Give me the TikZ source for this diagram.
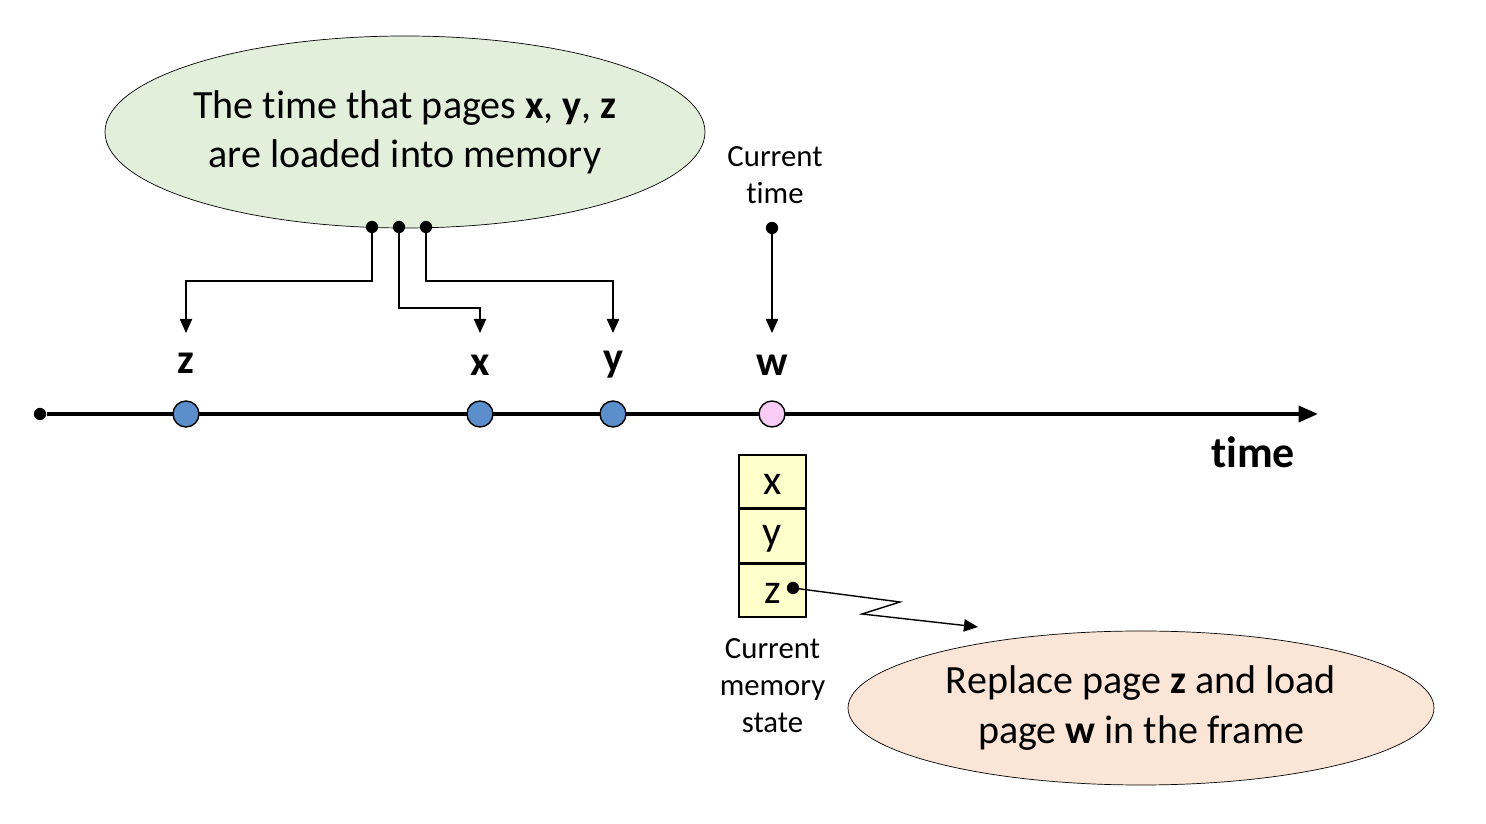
\documentclass[tikz,border=0pt]{standalone}
\usepackage{fontspec}
\setmainfont[Ligatures=NoCommon]{Carlito}
\usepackage{tikz}
\usetikzlibrary{arrows.meta,shapes.geometric,positioning}
\definecolor{bubGreen}{HTML}{E2EFDA}
\definecolor{bubPeach}{HTML}{FBE5D6}
\definecolor{dotBlue}{HTML}{5B8FCB}
\definecolor{dotPink}{HTML}{F9CCF5}
\definecolor{cellYellow}{HTML}{FFFFCC}

\begin{document}
\begin{tikzpicture}[
  every node/.style={font=\fontsize{22.8}{28}\selectfont},
  bubble/.style={draw, ellipse, thin, align=center, inner sep=0pt},
  event/.style={circle, draw, thick, minimum size=0.52cm, inner sep=0pt},
  page/.style={font=\fontsize{24}{28}\selectfont\bfseries},
  cell/.style={draw, thick, fill=cellYellow, minimum width=1.34cm, minimum height=1.06cm,
    inner sep=0pt, text height=14.5pt, font=\fontsize{24}{28}\selectfont},
  small/.style={font=\fontsize{17.5}{21}\selectfont, align=center},
  pin/.style={circle, fill, inner sep=0pt, minimum size=7pt},
  arr/.style={-{Triangle[length=8pt,width=7pt]}, thick},
]
\useasboundingbox (0,0) rectangle (29.72,16.48);

% Timeline axis
\node[pin] (t0) at (0.8, 8.2) {};
\coordinate (tend) at (26.36, 8.2);
\draw[line width=2.2pt, -{Triangle[length=11pt,width=9pt]}] (t0) -- (tend);
\node[font=\fontsize{25}{30}\selectfont\bfseries] (tlabel) at (25.06, 7.44) {time};

% Events on axis
\node[event, fill=dotBlue] (ez) at (3.72, 8.2) {};
\node[event, fill=dotBlue] (ex) at (9.6, 8.2) {};
\node[event, fill=dotBlue] (ey) at (12.26, 8.2) {};
\node[event, fill=dotPink] (ew) at (15.44, 8.2) {};

% Page labels
\node[page] (lz) at (3.72, 9.22) {z};
\node[page] (lx) at (9.6, 9.18) {x};
\node[page] (ly) at (12.26, 9.18) {y};
\node[page] (lw) at (15.44, 9.18) {w};

% Load-time bubble
\node[bubble, fill=bubGreen, minimum width=12cm, minimum height=3.84cm] (load) at (8.1, 13.84)
  {The time that pages \textbf{x}, \textbf{y}, \textbf{z}\\are loaded into memory};
\node[pin] (pz) at (7.44, 11.94) {};
\node[pin] (px) at (7.98, 11.94) {};
\node[pin] (py) at (8.52, 11.94) {};
\draw[arr] (pz.center) |- (3.72, 10.86) -- (lz.north |- 0,9.82);
\draw[arr] (px.center) |- (9.6, 10.32) -- (lx.north |- 0,9.82);
\draw[arr] (py.center) |- (12.26, 10.86) -- (ly.north |- 0,9.82);

% Current time
\node[small] (now) at (15.5, 12.98) {Current\\time};
\node[pin] (pnow) at (15.44, 11.92) {};
\draw[arr] (pnow.center) -- (15.44, 9.82);

% Memory frames
\node[cell] (mx) at (15.45, 6.85) {x};
\node[cell, below=0pt of mx] (my) {y};
\node[cell, below=0pt of my] (mz) {z};
\node[small, below=0.3cm of mz] (mstate) {Current\\memory\\state};

% Replacement bubble
\node[bubble, fill=bubPeach, minimum width=11.72cm, minimum height=3.08cm] (repl) at (22.82, 2.32)
  {Replace page \textbf{z} and load\\page \textbf{w} in the frame};
\node[pin] (pm) at (15.86, 4.72) {};
\coordinate (rtip) at (19.56, 3.94);
\draw[arr] (pm.center) -- (18.0, 4.44) -- (17.24, 4.2) -- (rtip);

\end{tikzpicture}
\end{document}
